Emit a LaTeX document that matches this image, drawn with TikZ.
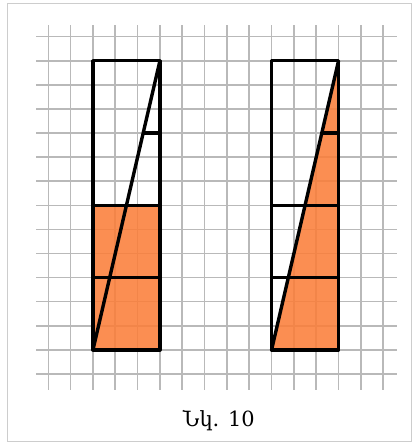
\documentclass[tikz,border=0pt]{standalone}
\usepackage{fontspec}
\newfontfamily\armfont{DejaVu Serif}
\definecolor{cellgray}{RGB}{185,185,185}
\definecolor{framegray}{RGB}{205,205,205}
\definecolor{barorange}{RGB}{250,126,58}
\tikzset{
  gridline/.style={cellgray,line width=1.2pt},
  halfpart/.style={barorange,fill opacity=0.88},
  bar/.style={black,line width=2.6pt,line join=round},
  part/.style={black,line width=2.6pt}
}
\begin{document}
\begin{tikzpicture}[x=0.6cm,y=0.6476cm]
      \useasboundingbox (-2.163,-2.863) rectangle (16.646,15.52);
      \draw[framegray,line width=1.1pt] (-1.836,-2.81) rectangle (16.27,15.38);
      % grid
      \foreach \i in {0,...,15}
        \draw[gridline] (\i,-0.66) -- (\i,14.49);
      \foreach \j in {0,...,14}
        \draw[gridline] (-0.55,\j) -- (15.6,\j);
      % left bar
      \coordinate (LA) at (2,1);  \coordinate (LB) at (5,1);
      \coordinate (LC) at (5,13); \coordinate (LD) at (2,13);
      \fill[halfpart] (LA) rectangle (5,7);
      \draw[part] (2,4) -- (5,4);
      \draw[part] (2,7) -- (5,7);
      \draw[part] (4.25,10) -- (5,10);
      \draw[part] (LA) -- (LC);
      \draw[bar] (LA) -- (LB) -- (LC) -- (LD) -- cycle;
      % right bar
      \coordinate (RA) at (10,1);  \coordinate (RB) at (13,1);
      \coordinate (RC) at (13,13); \coordinate (RD) at (10,13);
      \fill[halfpart] (RA) -- (RB) -- (RC) -- cycle;
      \draw[part] (10,4) -- (13,4);
      \draw[part] (10,7) -- (13,7);
      \draw[part] (12.25,10) -- (13,10);
      \draw[part] (RA) -- (RC);
      \draw[bar] (RA) -- (RB) -- (RC) -- (RD) -- cycle;
      \node (cap) at (7.64,-1.95) {\armfont\fontsize{16}{19}\selectfont Նկ. 10};
    \end{tikzpicture}
\end{document}
